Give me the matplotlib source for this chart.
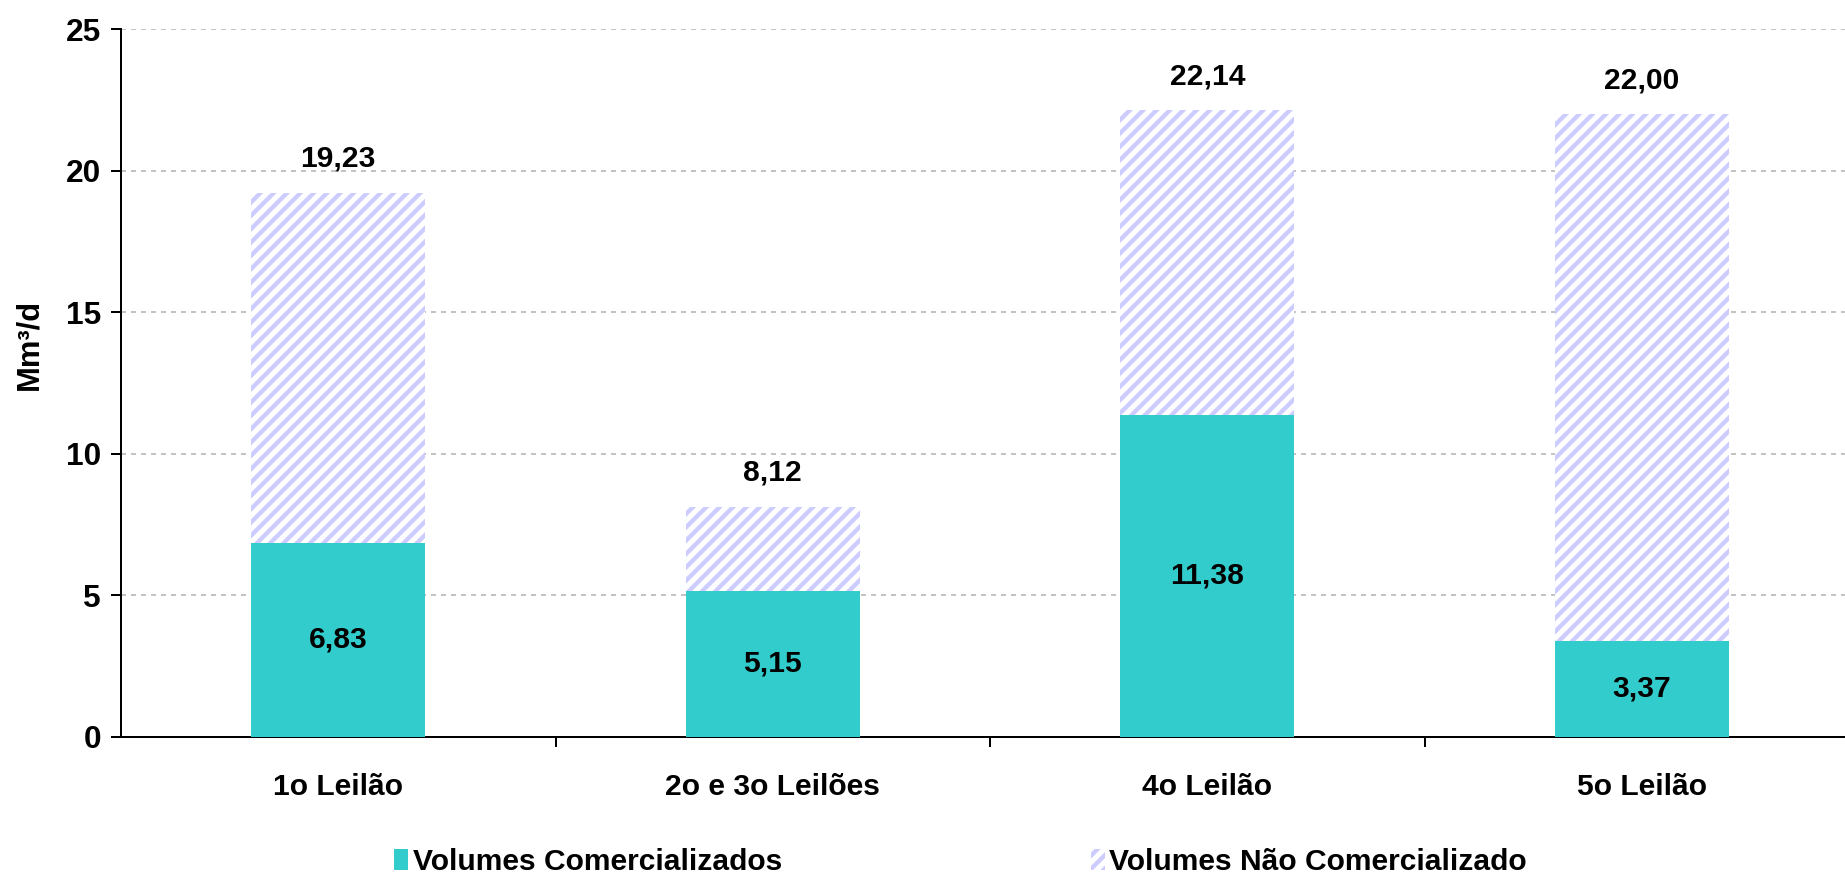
import matplotlib.pyplot as plt
import numpy as np

categories = ['1o Leilão', '2o e 3o Leilões', '4o Leilão', '5o Leilão']
comercializados = [6.83, 5.15, 11.38, 3.37]
totais = [19.23, 8.12, 22.14, 22.00]

nao_comercializados = [t - c for t, c in zip(totais, comercializados)]


def fmt(v):
    return f'{v:.2f}'.replace('.', ',')


plt.rcParams['font.family'] = ['Liberation Sans', 'DejaVu Sans']
plt.rcParams['font.weight'] = 'bold'
plt.rcParams['hatch.linewidth'] = 2.6

W, H = 1845, 879
fig = plt.figure(figsize=(15.375, 7.325), dpi=120)
ax = fig.add_axes([0.0656, 0.162, 0.942, 0.8046])

x = np.arange(len(categories))
teal = '#33CCCC'
lav = '#CCCCFF'

ax.bar(x, comercializados, width=0.4, color=teal, zorder=3,
       label='Volumes Comercializados')
ax.bar(x, nao_comercializados, width=0.4, bottom=comercializados,
       facecolor='white', edgecolor=lav, hatch='///', linewidth=0, zorder=3,
       label='Volumes Não Comercializado')

for i in range(len(categories)):
    ax.annotate(fmt(totais[i]), (x[i], totais[i]), xytext=(0, 20),
                textcoords='offset pixels', ha='center', va='bottom',
                fontsize=18, fontweight='bold')
    ax.text(x[i], comercializados[i] / 2, fmt(comercializados[i]),
            ha='center', va='center', fontsize=18, fontweight='bold', zorder=4)

ax.set_xlim(-0.5, 3.5)
ax.set_ylim(0, 25)
ax.set_yticks([0, 5, 10, 15, 20, 25])
ax.yaxis.grid(True, linestyle=(0, (3, 3)), color='#b8b8b8', linewidth=1)
ax.set_axisbelow(True)

# ticks between categories, labels centred
ax.set_xticks([0.5, 1.5, 2.5])
ax.set_xticklabels([])
ax.set_xticks(x, minor=True)
ax.set_xticklabels(categories, minor=True, fontsize=18, fontweight='bold')
ax.tick_params(axis='x', which='minor', length=0, pad=22)
ax.tick_params(axis='x', which='major', length=6, width=1.2)
ax.tick_params(axis='y', length=6, width=1.2, labelsize=19, pad=6)

for s in ['top', 'right']:
    ax.spines[s].set_visible(False)
ax.spines['left'].set_linewidth(1.2)
ax.spines['bottom'].set_linewidth(1.2)

fig.text(29 / W, 1 - 344 / H, 'Mm³/d', rotation=90, ha='center', va='center',
         fontsize=18.5, fontweight='bold')

fig.legend(loc='center left', bbox_to_anchor=(394 / W, 1 - 862 / H), ncol=2,
           frameon=False, fontsize=18, handlelength=0.47, handleheight=0.67,
           handletextpad=0.15, columnspacing=10.3, borderpad=0, borderaxespad=0)

fig.savefig('out.png', dpi=120)
